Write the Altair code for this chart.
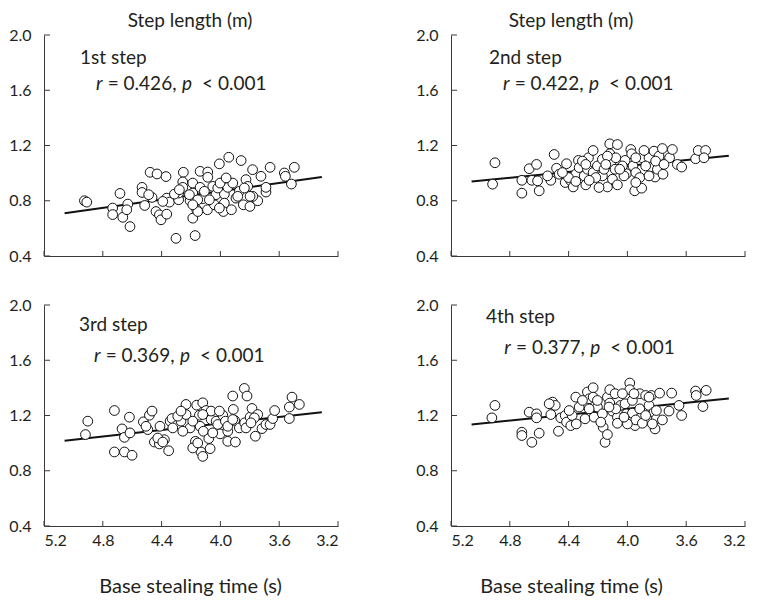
import altair as alt
import pandas as pd

FONT = "Lato"
TXT = "#231f20"
AX = "#3a3a3a"

X_TICKS = [5.2, 4.8, 4.4, 4.0, 3.6, 3.2]
Y_TICKS = [0.4, 0.8, 1.2, 1.6, 2.0]
FIT_T = [5.06, 3.31]

Y_TITLE = "Step length (m)"
X_TITLE = "Base stealing time (s)"
STEP_LABELS = ["1st step", "2nd step", "3rd step", "4th step"]
R_VALUES = ["= 0.426,", "= 0.422,", "= 0.369,", "= 0.377,"]
P_TEXT = "< 0.001"

# ---- 1st step ----
s1_time = [4.925, 4.909, 4.683, 4.733, 4.733, 4.664, 4.63, 4.637, 4.615, 4.533,
           4.533, 4.515, 4.478, 4.431, 4.37, 4.465, 4.438, 4.415, 4.404, 4.365,
           4.365, 4.347, 4.302, 4.284, 4.284, 4.252, 4.256, 4.256, 4.188, 4.172,
           4.206, 4.188, 4.188, 4.161, 4.138, 4.086, 4.138, 4.12, 4.088, 4.086,
           4.052, 4.041, 4.03, 4.007, 3.943, 3.859, 3.984, 3.973, 3.973, 3.98,
           3.925, 3.95, 3.894, 3.871, 3.826, 3.814, 3.844, 3.799, 3.781, 3.724,
           3.746, 3.69, 3.662, 3.565, 3.558, 3.497, 3.517, 4.313, 4.211, 4.154,
           4.109, 4.075, 4.018, 4.002, 3.916, 3.882, 3.78, 3.837, 4.154, 4.392,
           4.488, 3.69, 3.798, 4.007, 4.279, 3.961, 4.188]
s1_len = [0.80, 0.79, 0.853, 0.747, 0.70, 0.68, 0.776, 0.735, 0.613, 0.897,
          0.86, 0.766, 1.006, 0.994, 0.975, 0.824, 0.722, 0.698, 0.662, 0.703,
          0.819, 0.79, 0.528, 0.807, 0.856, 1.006, 0.936, 0.897, 0.674, 0.548,
          0.80, 0.856, 0.928, 0.735, 1.013, 1.008, 0.897, 0.815, 0.735, 0.97,
          0.904, 0.771, 0.844, 1.067, 1.115, 1.091, 0.916, 0.848, 0.783, 0.722,
          0.735, 0.897, 0.819, 0.868, 0.953, 0.904, 0.771, 0.759, 1.025, 0.977,
          0.80, 0.863, 1.042, 1.001, 0.977, 1.042, 0.921, 0.848, 0.844, 0.807,
          0.868, 0.807, 0.892, 0.928, 0.928, 0.832, 0.832, 0.892, 0.722, 0.795,
          0.844, 0.897, 0.832, 0.747, 0.88, 0.965, 0.771]
s1_fit = [0.71, 0.972]

# ---- 2nd step ----
s2_time = [4.917, 4.901, 4.718, 4.718, 4.668, 4.618, 4.65, 4.611, 4.6, 4.521,
           4.498, 4.482, 4.464, 4.423, 4.414, 4.385, 4.369, 4.351, 4.333, 4.328,
           4.294, 4.283, 4.272, 4.265, 4.233, 4.233, 4.204, 4.17, 4.17, 4.136,
           4.12, 4.12, 4.113, 4.102, 4.068, 4.068, 4.084, 4.016, 4.007, 3.977,
           3.971, 3.962, 3.95, 3.943, 3.916, 3.903, 3.898, 3.853, 3.842, 3.819,
           3.812, 3.796, 3.785, 3.762, 3.758, 3.713, 3.694, 3.66, 3.631, 3.536,
           3.518, 3.468, 3.479, 4.401, 4.306, 4.215, 4.159, 4.034, 3.876, 3.853,
           4.023, 4.193, 4.26, 4.079, 3.943, 3.808, 4.442, 4.543, 4.136, 4.351,
           3.943, 3.751, 4.052, 4.147, 4.283, 3.887]
s2_len = [0.92, 1.075, 0.855, 0.948, 1.032, 1.063, 0.948, 0.944, 0.872, 0.948,
          1.135, 1.035, 0.992, 0.932, 1.068, 0.944, 0.90, 0.992, 1.092, 1.04,
          0.98, 0.915, 1.028, 1.111, 1.164, 1.004, 1.052, 1.10, 0.98, 0.90,
          1.212, 1.14, 1.068, 0.956, 1.207, 0.915, 1.028, 1.092, 0.996, 1.171,
          1.14, 1.052, 0.872, 1.004, 0.968, 0.891, 1.111, 1.111, 1.044, 1.159,
          0.972, 1.028, 1.123, 1.178, 0.992, 1.111, 1.171, 1.063, 1.044, 1.104,
          1.164, 1.164, 1.111, 0.968, 1.087, 0.968, 1.028, 1.052, 1.052, 0.98,
          0.98, 0.896, 0.948, 1.111, 1.111, 1.087, 1.004, 0.98, 1.123, 0.94,
          0.932, 1.063, 1.028, 1.063, 1.063, 1.164]
s2_fit = [0.939, 1.125]

# ---- 3rd step ----
s3_time = [4.918, 4.902, 4.721, 4.721, 4.653, 4.601, 4.669, 4.653, 4.615, 4.619,
           4.524, 4.494, 4.483, 4.465, 4.449, 4.415, 4.411, 4.381, 4.352, 4.342,
           4.329, 4.29, 4.268, 4.234, 4.234, 4.206, 4.17, 4.161, 4.143, 4.138,
           4.132, 4.12, 4.12, 4.116, 4.098, 4.079, 4.07, 4.063, 4.063, 4.029,
           4.018, 4.002, 3.984, 3.966, 3.95, 3.95, 3.95, 3.916, 3.912, 3.903,
           3.898, 3.871, 3.837, 3.819, 3.835, 3.826, 3.798, 3.785, 3.762, 3.746,
           3.717, 3.69, 3.662, 3.644, 3.631, 3.531, 3.531, 3.513, 3.463, 4.29,
           4.256, 4.188, 4.154, 4.426, 4.392, 4.506, 4.007, 3.769, 4.12, 4.188,
           3.792, 4.052, 4.324, 3.916, 4.268]
s3_len = [1.062, 1.159, 1.236, 0.936, 0.936, 0.912, 1.103, 1.042, 1.074, 1.188,
          1.154, 1.098, 1.202, 1.232, 1.008, 0.994, 1.122, 1.025, 0.945, 1.159,
          1.178, 1.135, 1.159, 1.28, 1.207, 1.11, 1.013, 1.275, 1.202, 1.122,
          0.936, 0.904, 1.292, 1.086, 1.236, 1.033, 0.96, 1.171, 1.232, 1.159,
          1.135, 1.067, 1.202, 1.159, 1.086, 1.013, 1.122, 1.341, 1.244, 1.164,
          1.008, 1.11, 1.396, 1.341, 1.147, 1.11, 1.188, 1.251, 1.05, 1.207,
          1.105, 1.135, 1.135, 1.178, 1.236, 1.178, 1.261, 1.333, 1.28, 1.195,
          1.086, 0.965, 1.001, 1.037, 1.008, 1.122, 1.232, 1.183, 1.207, 1.159,
          1.147, 1.074, 1.11, 1.171, 1.232]
s3_fit = [1.018, 1.224]

# ---- 4th step ----
s4_time = [4.922, 4.901, 4.718, 4.718, 4.668, 4.65, 4.618, 4.618, 4.6, 4.521,
           4.509, 4.491, 4.469, 4.453, 4.423, 4.414, 4.385, 4.376, 4.351, 4.348,
           4.328, 4.288, 4.272, 4.26, 4.233, 4.226, 4.233, 4.204, 4.17, 4.165,
           4.152, 4.136, 4.136, 4.12, 4.12, 4.102, 4.084, 4.068, 4.068, 4.046,
           4.016, 4.007, 3.984, 3.984, 3.966, 3.948, 3.943, 3.916, 3.898, 3.916,
           3.876, 3.853, 3.837, 3.819, 3.812, 3.803, 3.803, 3.781, 3.762, 3.717,
           3.699, 3.649, 3.631, 3.536, 3.532, 3.486, 3.464, 4.306, 4.204, 4.034,
           3.966, 4.079, 4.181, 3.876, 4.0, 3.83, 4.26, 4.396, 4.532, 3.853,
           4.125, 3.955, 4.023]
s4_len = [1.183, 1.273, 1.079, 1.055, 1.224, 1.006, 1.212, 1.183, 1.072, 1.207,
          1.297, 1.273, 1.086, 1.183, 1.20, 1.152, 1.127, 1.20, 1.333, 1.139,
          1.261, 1.176, 1.37, 1.321, 1.401, 1.188, 1.333, 1.261, 1.212, 1.115,
          1.006, 1.062, 1.333, 1.387, 1.29, 1.232, 1.358, 1.188, 1.144, 1.273,
          1.285, 1.212, 1.435, 1.387, 1.217, 1.127, 1.168, 1.248, 1.144, 1.358,
          1.345, 1.273, 1.345, 1.224, 1.103, 1.176, 1.236, 1.362, 1.168, 1.232,
          1.362, 1.273, 1.20, 1.377, 1.345, 1.265, 1.382, 1.309, 1.309, 1.358,
          1.309, 1.248, 1.152, 1.20, 1.139, 1.139, 1.248, 1.236, 1.285, 1.333,
          1.261, 1.358, 1.188]
s4_fit = [1.135, 1.323]

W, H = 294, 221


def text_layer(s, x, y, size, italic=False, align="left"):
    return alt.Chart(pd.DataFrame({"s": [s]})).mark_text(
        align=align, baseline="alphabetic", font=FONT, fontSize=size,
        fontStyle="italic" if italic else "normal", color=TXT
    ).encode(text="s:N", x=alt.value(x), y=alt.value(y))


def panel(times, lens, fit, idx, top, title_x, lab_x, lab_y, r_x, r_y):
    xscale = alt.Scale(domain=[3.2, 5.2], reverse=True, nice=False, zero=False)
    yscale = alt.Scale(domain=[0.4, 2.0], nice=False, zero=False)
    if top:
        xaxis = alt.Axis(values=X_TICKS, labels=False, ticks=False, title=None,
                         grid=False, domainColor=AX)
    else:
        xaxis = alt.Axis(values=X_TICKS, format=".1f", ticks=False, grid=False,
                         labelPadding=6, domainColor=AX, title=X_TITLE,
                         titleX=title_x, titleY=66, titleBaseline="alphabetic",
                         titleAlign="center")
    yaxis = alt.Axis(values=Y_TICKS, format=".1f", ticks=False, grid=False,
                     labelPadding=13, title=None, domainColor=AX)
    X = alt.X("t:Q", scale=xscale, axis=xaxis)
    Y = alt.Y("L:Q", scale=yscale, axis=yaxis)

    pts = pd.DataFrame({"t": times, "L": lens})
    fit_df = pd.DataFrame({"t": FIT_T, "L": fit})

    yticks = alt.Chart(pd.DataFrame({"L": Y_TICKS})).mark_rule(
        color=AX, strokeWidth=1).encode(y=Y, x=alt.value(0), x2=alt.value(6))
    xticks = alt.Chart(pd.DataFrame({"t": X_TICKS})).mark_rule(
        color=AX, strokeWidth=1).encode(x=X, y=alt.value(H - 5), y2=alt.value(H))
    line = alt.Chart(fit_df).mark_line(color="#111111", strokeWidth=2).encode(x=X, y=Y)
    dots = alt.Chart(pts).mark_circle(
        size=95, fill="white", stroke="#111111", strokeWidth=1, opacity=1
    ).encode(x=X, y=Y)

    texts = [
        text_layer(STEP_LABELS[idx], lab_x, lab_y, 19),
        text_layer("r", r_x, r_y, 19, italic=True),
        text_layer(R_VALUES[idx], r_x + 11.7, r_y, 19),
        text_layer("p", r_x + 86, r_y, 19, italic=True),
        text_layer(P_TEXT, r_x + 106, r_y, 19),
    ]
    if top:
        texts.append(text_layer(Y_TITLE, title_x, -8, 19, align="center"))
    return alt.layer(yticks, xticks, line, dots, *texts).properties(width=W, height=H)


p1 = panel(s1_time, s1_len, s1_fit, 0, True, 146, 36, 28.7, 52, 55.3)
p2 = panel(s2_time, s2_len, s2_fit, 1, True, 120, 38, 28.7, 52, 55.3)
p3 = panel(s3_time, s3_len, s3_fit, 2, False, 146, 35, 25.7, 50, 56.7)
p4 = panel(s4_time, s4_len, s4_fit, 3, False, 120, 35, 17.7, 53.3, 48.7)

chart = alt.concat(
    p1, p2, p3, p4, columns=2,
    spacing={"row": 49, "column": 113}, bounds="flush"
).properties(
    padding={"left": 0, "top": 4, "right": 0, "bottom": 0}
).configure_view(stroke=None).configure_axis(
    labelFont=FONT, labelFontSize=16, labelColor=TXT,
    titleFont=FONT, titleFontSize=20, titleFontWeight="normal", titleColor=TXT,
    domainWidth=1
)

chart.save("out.html", embed_options={"renderer": "svg", "actions": False})
